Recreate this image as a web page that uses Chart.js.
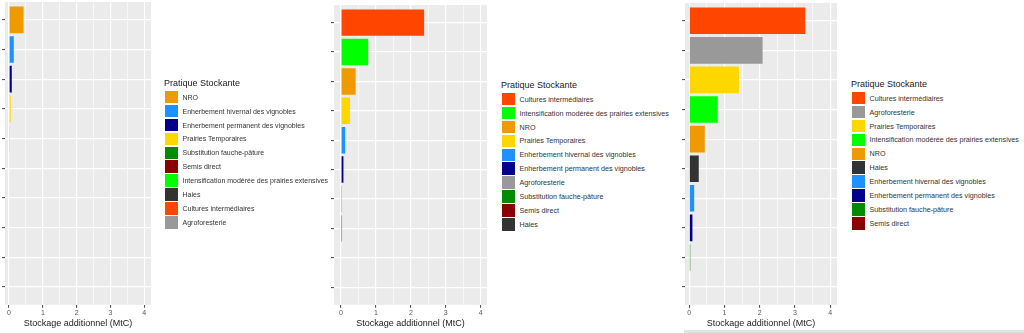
<!DOCTYPE html>
<html>
<head>
<meta charset="utf-8">
<script src="https://cdn.jsdelivr.net/npm/chart.js@4.4.1/dist/chart.umd.min.js"></script>
<style>
  body { margin: 0; width: 1024px; height: 333px; background: #fff; overflow: hidden; position: relative;
         font-family: "Liberation Sans", Arial, sans-serif; }
  .panel { position: absolute; top: 0; height: 333px; }
  .legend { position: absolute; color: #333; }
  .legend .title { font-size: 9px; line-height: 11px; color: #1a1a1a; margin-left: -1px; }
  .legend .item { display: flex; align-items: center; height: 13.9px; white-space: nowrap; }
  .legend .key { width: 12.5px; height: 12.5px; margin-right: 5px; flex: none; }
  .strip { position: absolute; left: 684px; top: 330px; width: 340px; height: 3px; background: #e2e2e2; }
</style>
</head>
<body>
<div class="panel" style="left:0px;width:160px"><canvas id="chart1"></canvas></div>
<div class="panel" style="left:326px;width:170px"><canvas id="chart2"></canvas></div>
<div class="panel" style="left:677px;width:169px"><canvas id="chart3"></canvas></div>
<div id="legend1" class="legend"></div>
<div id="legend2" class="legend"></div>
<div id="legend3" class="legend"></div>
<div class="strip"></div>
<script>
// practices and their fill colours
const practices = [
  "NRO",
  "Enherbement hivernal des vignobles",
  "Enherbement permanent des vignobles",
  "Prairies Temporaires",
  "Substitution fauche-pâture",
  "Semis direct",
  "Intensification modérée des prairies extensives",
  "Haies",
  "Cultures intermédiaires",
  "Agroforesterie",
];
const practiceColors = [
  "#EE9A00", "#1E90FF", "#00008B", "#FFD700", "#008B00",
  "#8B0000", "#00FF00", "#333333", "#FF4500", "#999999",
];

// scenario 1
const labels1 = [
  "NRO",
  "Enherbement hivernal des vignobles",
  "Enherbement permanent des vignobles",
  "Prairies Temporaires",
  "Substitution fauche-pâture",
  "Semis direct",
  "Intensification modérée des prairies extensives",
  "Haies",
  "Cultures intermédiaires",
  "Agroforesterie",
];
const values1 = [0.43, 0.14, 0.08, 0.05, 0.02, 0, 0, 0, 0, 0];

// scenario 2
const labels2 = [
  "Cultures intermédiaires",
  "Intensification modérée des prairies extensives",
  "NRO",
  "Prairies Temporaires",
  "Enherbement hivernal des vignobles",
  "Enherbement permanent des vignobles",
  "Agroforesterie",
  "Substitution fauche-pâture",
  "Semis direct",
  "Haies",
];
const values2 = [2.38, 0.78, 0.42, 0.26, 0.12, 0.07, 0.03, 0.03, 0, 0];

// scenario 3
const labels3 = [
  "Cultures intermédiaires",
  "Agroforesterie",
  "Prairies Temporaires",
  "Intensification modérée des prairies extensives",
  "NRO",
  "Haies",
  "Enherbement hivernal des vignobles",
  "Enherbement permanent des vignobles",
  "Substitution fauche-pâture",
  "Semis direct",
];
const values3 = [3.29, 2.08, 1.41, 0.81, 0.44, 0.27, 0.14, 0.09, 0.03, 0];

const xTicks = [0, 1, 2, 3, 4];
const xGrid = [0, 0.5, 1, 1.5, 2, 2.5, 3, 3.5, 4];
const axisTitle = "Stockage additionnel (MtC)";
const legendTitle = "Pratique Stockante";

const colorOf = (name) => practiceColors[practices.indexOf(name)];

Chart.defaults.font.family = "'Liberation Sans', Arial, sans-serif";

// grey panel behind the plot, ggplot style
const panelBackground = {
  id: "panelBackground",
  beforeDraw(chart) {
    const { ctx, chartArea: a } = chart;
    ctx.save();
    ctx.fillStyle = "#EBEBEB";
    ctx.fillRect(a.left, a.top, a.right - a.left, a.bottom - a.top);
    ctx.restore();
  },
};

const drawPanel = (id, labels, values, xMin, xMax, padLeft, padTop) => {
  new Chart(document.getElementById(id), {
    type: "bar",
    data: {
      datasets: [
        {
          data: values.map((v, i) => ({ x: v, y: i })),
          backgroundColor: labels.map(colorOf),
          borderWidth: 0,
          barPercentage: 0.9,
          categoryPercentage: 1,
        },
      ],
    },
    options: {
      indexAxis: "y",
      responsive: true,
      maintainAspectRatio: false,
      animation: false,
      layout: { padding: { left: padLeft, right: 9, top: padTop, bottom: 0 } },
      plugins: { legend: { display: false }, tooltip: { enabled: false } },
      scales: {
        x: {
          type: "linear",
          min: xMin,
          max: xMax,
          afterBuildTicks: (scale) => {
            scale.ticks = xGrid.map((v) => ({ value: v }));
          },
          border: { display: false },
          grid: {
            color: "#FFFFFF",
            lineWidth: (c) => (xTicks.includes(c.tick.value) ? 1.2 : 0.6),
            tickColor: (c) => (xTicks.includes(c.tick.value) ? "#444" : "rgba(0,0,0,0)"),
            tickWidth: 1,
            tickLength: 3,
          },
          ticks: {
            autoSkip: false,
            maxRotation: 0,
            padding: 1,
            color: "#555",
            font: { size: 7 },
            callback: (v) => (xTicks.includes(v) ? String(v) : ""),
          },
          title: {
            display: true,
            text: axisTitle,
            color: "#1a1a1a",
            font: { size: 9 },
            padding: { top: 0, bottom: 4 },
          },
        },
        y: {
          type: "linear",
          reverse: true,
          offset: false,
          min: -0.6,
          max: labels.length - 0.4,
          afterBuildTicks: (scale) => {
            scale.ticks = labels.map((_, i) => ({ value: i }));
          },
          border: { display: false },
          grid: {
            offset: false,
            color: "#FFFFFF",
            lineWidth: 1.2,
            tickColor: "#444",
            tickWidth: 1,
            tickLength: 3,
          },
          ticks: { display: false },
        },
      },
    },
    plugins: [panelBackground],
  });
};

const buildLegend = (id, labels, left, top, fontSize) => {
  const el = document.getElementById(id);
  el.style.left = left + "px";
  el.style.top = top + "px";
  el.style.fontSize = fontSize + "px";
  const title = document.createElement("div");
  title.className = "title";
  title.textContent = legendTitle;
  title.style.marginBottom = "1.8px";
  el.appendChild(title);
  labels.forEach((name) => {
    const item = document.createElement("div");
    item.className = "item";
    const key = document.createElement("span");
    key.className = "key";
    key.style.background = colorOf(name);
    const text = document.createElement("span");
    text.textContent = name;
    item.appendChild(key);
    item.appendChild(text);
    el.appendChild(item);
  });
};

drawPanel("chart1", labels1, values1, -0.12, 4.2, 2, 2);
drawPanel("chart2", labels2, values2, -0.2, 4.18, 5, 5);
drawPanel("chart3", labels3, values3, -0.12, 4.19, 5, 3);

buildLegend("legend1", labels1, 165, 77.5, 7);
buildLegend("legend2", labels2, 502, 79.5, 7.2);
buildLegend("legend3", labels3, 852, 78.5, 7.2);
</script>
</body>
</html>
